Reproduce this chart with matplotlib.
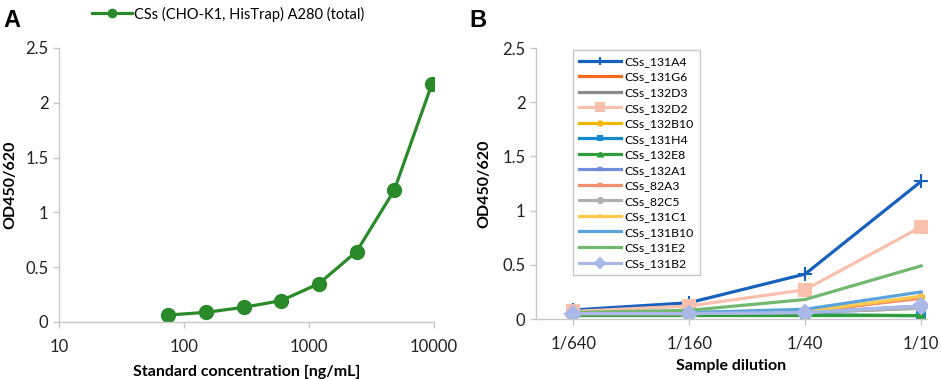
import matplotlib.pyplot as plt
import numpy as np

plt.rcParams['font.family'] = ['Lato', 'DejaVu Sans']

# panel A: standard curve
conc = [75, 150, 300, 600, 1200, 2400, 4800, 9600]
od_std = [0.064, 0.088, 0.134, 0.195, 0.35, 0.642, 1.2, 2.168]

# panel B: sample dilutions
dilutions = ['1/640', '1/160', '1/40', '1/10']
samples = ['CSs_131A4', 'CSs_131G6', 'CSs_132D3', 'CSs_132D2', 'CSs_132B10',
           'CSs_131H4', 'CSs_132E8', 'CSs_132A1', 'CSs_82A3', 'CSs_82C5',
           'CSs_131C1', 'CSs_131B10', 'CSs_131E2', 'CSs_131B2']
od_samples = [
    [0.083, 0.15, 0.415, 1.27],
    [0.05, 0.05, 0.06, 0.20],
    [0.05, 0.05, 0.06, 0.10],
    [0.07, 0.12, 0.27, 0.85],
    [0.05, 0.06, 0.07, 0.20],
    [0.04, 0.04, 0.04, 0.03],
    [0.04, 0.04, 0.04, 0.04],
    [0.05, 0.05, 0.06, 0.12],
    [0.05, 0.05, 0.07, 0.19],
    [0.05, 0.05, 0.06, 0.10],
    [0.05, 0.05, 0.07, 0.21],
    [0.05, 0.06, 0.09, 0.25],
    [0.06, 0.08, 0.18, 0.49],
    [0.05, 0.05, 0.06, 0.12],
]
colors = ['#1660BE', '#F26A1B', '#8C8C8C', '#F9C0AE', '#F5B800',
          '#1489CE', '#2E9E3A', '#6F8FDC', '#F4906F', '#B0B0B0',
          '#FFC94A', '#5BA3DF', '#72B870', '#A9B8E6']
markers = ['+', None, None, 's', 'P', 's', '^', 'x', 'x', 'o',
           '+', None, None, 'D']
msizes = [10, 0, 0, 9, 5, 6, 5, 5, 5, 6, 5, 0, 0, 8]

fig = plt.figure(figsize=(9.41, 3.79), dpi=100)
axA = fig.add_axes([0.0627, 0.1504, 0.3985, 0.723])
axB = fig.add_axes([0.5696, 0.1583, 0.4155, 0.715])

def style_axis(ax):
    for s in ['top', 'right']:
        ax.spines[s].set_visible(False)
    for s in ['left', 'bottom']:
        ax.spines[s].set_color('#C8C8C8')
        ax.spines[s].set_linewidth(1.0)
    ax.tick_params(colors='#C8C8C8', labelcolor='#222222', labelsize=12,
                   length=4, width=1)
    ax.tick_params(axis='x', pad=8)
    ax.set_ylim(0, 2.5)
    ax.set_yticks([0, 0.5, 1, 1.5, 2, 2.5])
    ax.set_yticklabels(['0', '0.5', '1', '1.5', '2', '2.5'])

# A
axA.plot(conc, od_std, color='#2A8A2A', lw=2.3, marker='o', ms=10,
         label='CSs (CHO-K1, HisTrap) A280 (total)')
axA.set_xscale('log')
axA.set_xlim(10, 10000)
axA.set_xticks([10, 100, 1000, 10000])
axA.set_xticklabels(['10', '100', '1000', '10000'])
axA.minorticks_off()
style_axis(axA)
axA.set_xlabel('Standard concentration [ng/mL]', fontsize=11.5, fontweight='bold', labelpad=7)
axA.set_ylabel('OD450/620', fontsize=11.5, fontweight='bold', labelpad=6)
axA.legend(loc='center left', bbox_to_anchor=(0.088, 1.124), frameon=False,
           fontsize=10.5, handlelength=2.75, handletextpad=0.15, borderpad=0,
           borderaxespad=0, markerscale=0.6)

# B
xpos = np.arange(len(dilutions))
for name, vals, c, m, s in zip(samples, od_samples, colors, markers, msizes):
    axB.plot(xpos, vals, color=c, lw=2.3, marker=m, ms=s, mew=1.5, label=name)
axB.set_xlim(-0.32, 3.05)
axB.set_xticks(xpos)
axB.set_xticklabels(dilutions)
style_axis(axB)
axB.set_xlabel('Sample dilution', fontsize=11.5, fontweight='bold', labelpad=5)
axB.set_ylabel('OD450/620', fontsize=11.5, fontweight='bold', labelpad=8)
leg = axB.legend(loc='upper left', bbox_to_anchor=(0.095, 0.993), fontsize=8.8,
                 handlelength=3.4, handletextpad=0.3, labelspacing=0.37,
                 fancybox=False, edgecolor='#BBBBBB', borderpad=0.5,
                 borderaxespad=0, markerscale=0.6)
leg.get_frame().set_linewidth(1.0)

fig.text(0.004, 0.93, 'A', fontsize=17, fontweight='bold', family='Liberation Sans')
fig.text(0.499, 0.93, 'B', fontsize=17, fontweight='bold', family='Liberation Sans')

fig.savefig('out.png', dpi=100)
